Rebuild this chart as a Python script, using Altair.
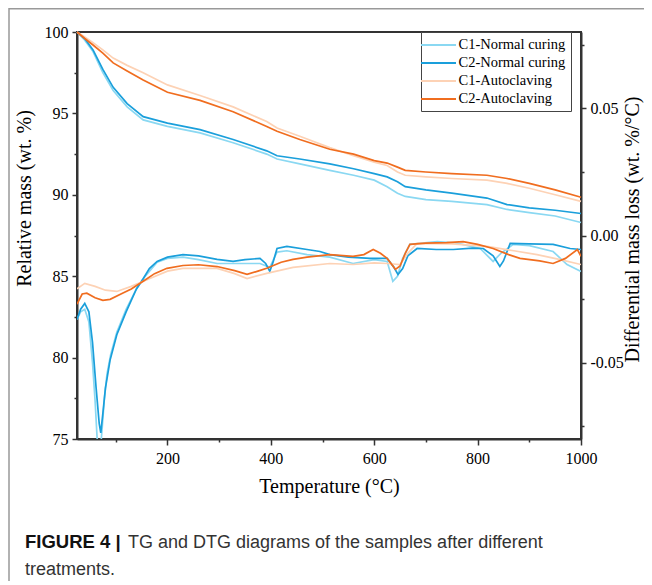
import altair as alt
import pandas as pd

SERIES = ["C1-Normal curing", "C2-Normal curing", "C1-Autoclaving", "C2-Autoclaving"]
COLORS = ["#8ad8f2", "#1a9fdb", "#fdd2b5", "#f06d1f"]

# ---- TG (relative mass, wt. %) ----
TG_T = [25, 40, 56, 75, 95, 122, 153, 200, 263, 327, 392, 412, 456, 514, 560,
        600, 625, 645, 660, 700, 750, 818, 857, 900, 950, 1000]
TG_C1_NC = [100, 99.5, 98.8, 97.5, 96.4, 95.4, 94.6, 94.2, 93.8, 93.2, 92.5, 92.2, 91.9,
            91.5, 91.2, 90.9, 90.5, 90.1, 89.9, 89.7, 89.6, 89.4, 89.1, 88.9, 88.7, 88.3]
TG_C2_NC = [100, 99.6, 98.9, 97.7, 96.6, 95.6, 94.8, 94.4, 94.0, 93.4, 92.7, 92.4, 92.2,
            91.9, 91.6, 91.3, 91.1, 90.8, 90.5, 90.3, 90.1, 89.8, 89.4, 89.2, 89.05, 88.85]
TG_C1_AC = [100, 99.7, 99.35, 98.9, 98.4, 97.95, 97.5, 96.75, 96.1, 95.4, 94.5, 94.1, 93.6,
            92.9, 92.4, 92.0, 91.8, 91.4, 91.2, 91.1, 91.0, 90.9, 90.7, 90.4, 90.0, 89.6]
TG_C2_AC = [100, 99.6, 99.2, 98.7, 98.1, 97.6, 97.05, 96.3, 95.8, 95.1, 94.2, 93.9, 93.4,
            92.8, 92.5, 92.1, 91.95, 91.7, 91.5, 91.4, 91.3, 91.2, 91.0, 90.7, 90.3, 89.85]

# ---- DTG (differential mass loss, wt. %/°C) ----
DTG_C1_NC_T = [25, 32, 40, 48, 55, 60, 64, 67, 70, 74, 78, 83, 90, 102, 120, 140, 153, 180,
               200, 230, 260, 296, 327, 379, 398, 412, 431, 470, 514, 559, 600, 625, 636,
               645, 655, 669, 722, 760, 805, 830, 845, 869, 900, 946, 973, 1000]
DTG_C1_NC = [-0.033, -0.030, -0.029, -0.034, -0.050, -0.065, -0.080, -0.088, -0.085, -0.075,
             -0.064, -0.0545, -0.047, -0.038, -0.029, -0.021, -0.017, -0.0105, -0.009,
             -0.0085, -0.0095, -0.011, -0.011, -0.011, -0.0125, -0.0065, -0.006, -0.0075,
             -0.0085, -0.011, -0.0095, -0.0102, -0.018, -0.016, -0.009, -0.0035, -0.0024,
             -0.003, -0.0051, -0.0102, -0.007, -0.0035, -0.004, -0.0063, -0.0114, -0.0141]

DTG_C2_NC_T = [25, 32, 40, 48, 55, 62, 68, 71, 75, 80, 89, 102, 120, 140, 153, 165, 180, 200,
               230, 260, 296, 327, 350, 379, 390, 398, 405, 412, 431, 470, 495, 514, 550,
               592, 625, 638, 646, 655, 665, 683, 720, 753, 790, 811, 830, 843, 850, 863,
               900, 946, 979, 1000]
DTG_C2_NC = [-0.033, -0.029, -0.0267, -0.030, -0.042, -0.060, -0.074, -0.0776, -0.070, -0.060,
             -0.049, -0.039, -0.030, -0.021, -0.017, -0.013, -0.0102, -0.0085, -0.0075,
             -0.008, -0.0094, -0.0102, -0.0095, -0.009, -0.011, -0.0141, -0.010, -0.0051,
             -0.0043, -0.0055, -0.0063, -0.0075, -0.0085, -0.009, -0.009, -0.0125, -0.0153,
             -0.013, -0.008, -0.0051, -0.0055, -0.0055, -0.005, -0.0051, -0.008, -0.0122,
             -0.010, -0.0031, -0.0033, -0.0035, -0.0051, -0.0055]

DTG_C1_AC_T = [25, 40, 60, 80, 102, 130, 166, 200, 230, 296, 330, 354, 392, 443, 514, 559,
               600, 625, 650, 665, 683, 750, 818, 870, 915, 960, 1000]
DTG_C1_AC = [-0.021, -0.0188, -0.020, -0.0215, -0.022, -0.020, -0.0169, -0.014, -0.0129,
             -0.0129, -0.015, -0.0169, -0.0149, -0.0125, -0.011, -0.0114, -0.0108, -0.011,
             -0.0114, -0.007, -0.0031, -0.0033, -0.0043, -0.006, -0.0075, -0.0095, -0.0114]

DTG_C2_AC_T = [25, 35, 44, 60, 75, 89, 110, 130, 153, 175, 199, 230, 260, 296, 330, 354, 375,
               392, 420, 443, 470, 514, 559, 580, 598, 612, 625, 641, 650, 660, 669, 700,
               740, 772, 800, 830, 860, 882, 920, 946, 970, 993, 1000]
DTG_C2_AC = [-0.027, -0.023, -0.0227, -0.0245, -0.0255, -0.0251, -0.023, -0.021, -0.018,
             -0.015, -0.0129, -0.0118, -0.0115, -0.0122, -0.0138, -0.0153, -0.014, -0.0129,
             -0.0105, -0.0094, -0.0085, -0.0075, -0.0082, -0.0075, -0.0055, -0.007, -0.009,
             -0.0133, -0.012, -0.007, -0.0035, -0.0030, -0.0028, -0.0024, -0.0035, -0.0051,
             -0.0075, -0.009, -0.010, -0.011, -0.009, -0.0055, -0.0082]

CAPTION_BOLD = ["FIGURE 4 |"]
CAPTION_LINE1 = ["TG and DTG diagrams of the samples after different"]
CAPTION_LINE2 = ["treatments."]

X_TICKS = [100, 200, 300, 400, 500, 600, 700, 800, 900, 1000]
YL_TICKS = [75, 77.5, 80, 82.5, 85, 87.5, 90, 92.5, 95, 97.5, 100]
YR_TICKS = [-0.075, -0.05, -0.025, 0.0, 0.025, 0.05, 0.075]

# ---- build tables ----
tg_rows = []
for name, vals in zip(SERIES, [TG_C1_NC, TG_C2_NC, TG_C1_AC, TG_C2_AC]):
    for t, v in zip(TG_T, vals):
        tg_rows.append({"T": t, "mass": v, "series": name})
df_tg = pd.DataFrame(tg_rows)

dtg_rows = []
for name, ts, vals in zip(SERIES,
                          [DTG_C1_NC_T, DTG_C2_NC_T, DTG_C1_AC_T, DTG_C2_AC_T],
                          [DTG_C1_NC, DTG_C2_NC, DTG_C1_AC, DTG_C2_AC]):
    for t, v in zip(ts, vals):
        dtg_rows.append({"T": t, "dtg": v, "series": name})
df_dtg = pd.DataFrame(dtg_rows)

SERIF = "Liberation Serif"
SANS = "Liberation Sans"
AX = "#333333"

x_enc = alt.X(
    "T:Q",
    scale=alt.Scale(domain=[25, 1000], nice=False, zero=False),
    axis=alt.Axis(
        values=X_TICKS,
        labelExpr="datum.value % 200 === 0 ? datum.label : ''",
        tickSize={"condition": {"test": "datum.value % 200 === 0", "value": 6}, "value": 3},
        labelPadding=5,
        labelFlush=False,
        titlePadding=10,
        title="Temperature (°C)",
        format="d",
    ),
)

color_enc = alt.Color(
    "series:N",
    scale=alt.Scale(domain=SERIES, range=COLORS),
    sort=SERIES,
    legend=alt.Legend(
        title=None,
        orient="none",
        legendX=344,
        legendY=0,
        symbolType="M-2.5,0H2.5",
        symbolSize=196,
        symbolStrokeWidth=2,
        symbolOffset=4.5,
        labelOffset=12,
        labelFont=SERIF,
        labelFontSize=14.5,
        labelColor="black",
        labelLimit=0,
        strokeColor="#444444",
        fillColor="white",
        padding=5,
        rowPadding=3,
    ),
)

tg = alt.Chart(df_tg).mark_line(strokeWidth=1.7).encode(
    x=x_enc,
    y=alt.Y(
        "mass:Q",
        scale=alt.Scale(domain=[75, 100], nice=False, zero=False),
        axis=alt.Axis(
            orient="left",
            values=YL_TICKS,
            labelExpr="datum.value % 5 === 0 ? datum.label : ''",
            tickSize={"condition": {"test": "datum.value % 5 === 0", "value": 5}, "value": 3},
            labelPadding=4,
            labelFlush=False,
            title="Relative mass (wt. %)",
            titleAngle=-90,
            titleX=-47,
            titleY=166,
            titleAlign="center",
            titleBaseline="alphabetic",
        ),
    ),
    color=color_enc,
)

dtg = alt.Chart(df_dtg).mark_line(strokeWidth=1.7, clip=True).encode(
    x=x_enc,
    y=alt.Y(
        "dtg:Q",
        scale=alt.Scale(domain=[-0.08, 0.08], nice=False, zero=False),
        axis=alt.Axis(
            orient="right",
            values=YR_TICKS,
            labelExpr="round(datum.value*1000) % 50 === 0 ? replace(format(datum.value, '.2f'), '\u2212', '-') : ''",
            tickSize={"condition": {"test": "round(datum.value*1000) % 50 === 0", "value": 5}, "value": 3},
            labelPadding=4,
            labelFlush=False,
            title="Differential mass loss (wt. %/°C)",
            titleAngle=-90,
            titleX=57,
            titleY=197,
            titleAlign="center",
            titleBaseline="alphabetic",
        ),
    ),
    color=color_enc,
)

# caption
cap_bold = alt.Chart(pd.DataFrame({"t": CAPTION_BOLD})).mark_text(
    align="left", baseline="alphabetic", font=SANS, fontSize=18.5, fontWeight="bold", color="#111111"
).encode(text="t:N", x=alt.value(-52), y=alt.value(516))
cap_1 = alt.Chart(pd.DataFrame({"t": CAPTION_LINE1})).mark_text(
    align="left", baseline="alphabetic", font=SANS, fontSize=18, color="#333333"
).encode(text="t:N", x=alt.value(51), y=alt.value(516))
cap_2 = alt.Chart(pd.DataFrame({"t": CAPTION_LINE2})).mark_text(
    align="left", baseline="alphabetic", font=SANS, fontSize=18, color="#333333"
).encode(text="t:N", x=alt.value(-52), y=alt.value(543))

# outer frame lines (figure border)
frame_top = alt.Chart(pd.DataFrame({"a": [0]})).mark_rule(color="#999999", strokeWidth=1.5).encode(
    x=alt.value(-68), x2=alt.value(575), y=alt.value(-23.2)
)
frame_left = alt.Chart(pd.DataFrame({"a": [0]})).mark_rule(color="#999999", strokeWidth=1.5).encode(
    x=alt.value(-68), y=alt.value(-24), y2=alt.value(560)
)

chart = alt.layer(tg, dtg, cap_bold, cap_1, cap_2, frame_top, frame_left).resolve_scale(
    y="independent"
).properties(
    width=504,
    height=407,
    padding={"left": 69, "top": 24, "right": 63, "bottom": 142},
    autosize=alt.AutoSizeParams(type="none"),
    background="white",
).configure_view(
    stroke=AX, strokeWidth=2
).configure_axis(
    grid=False,
    domainColor=AX,
    domainWidth=2,
    tickColor=AX,
    tickWidth=1.5,
    labelFont=SERIF,
    labelFontSize=16,
    labelColor="black",
    titleFont=SERIF,
    titleFontSize=20,
    titleFontWeight="normal",
    titleColor="black",
)

chart.save("out.html", embed_options={"renderer": "svg", "actions": False})
